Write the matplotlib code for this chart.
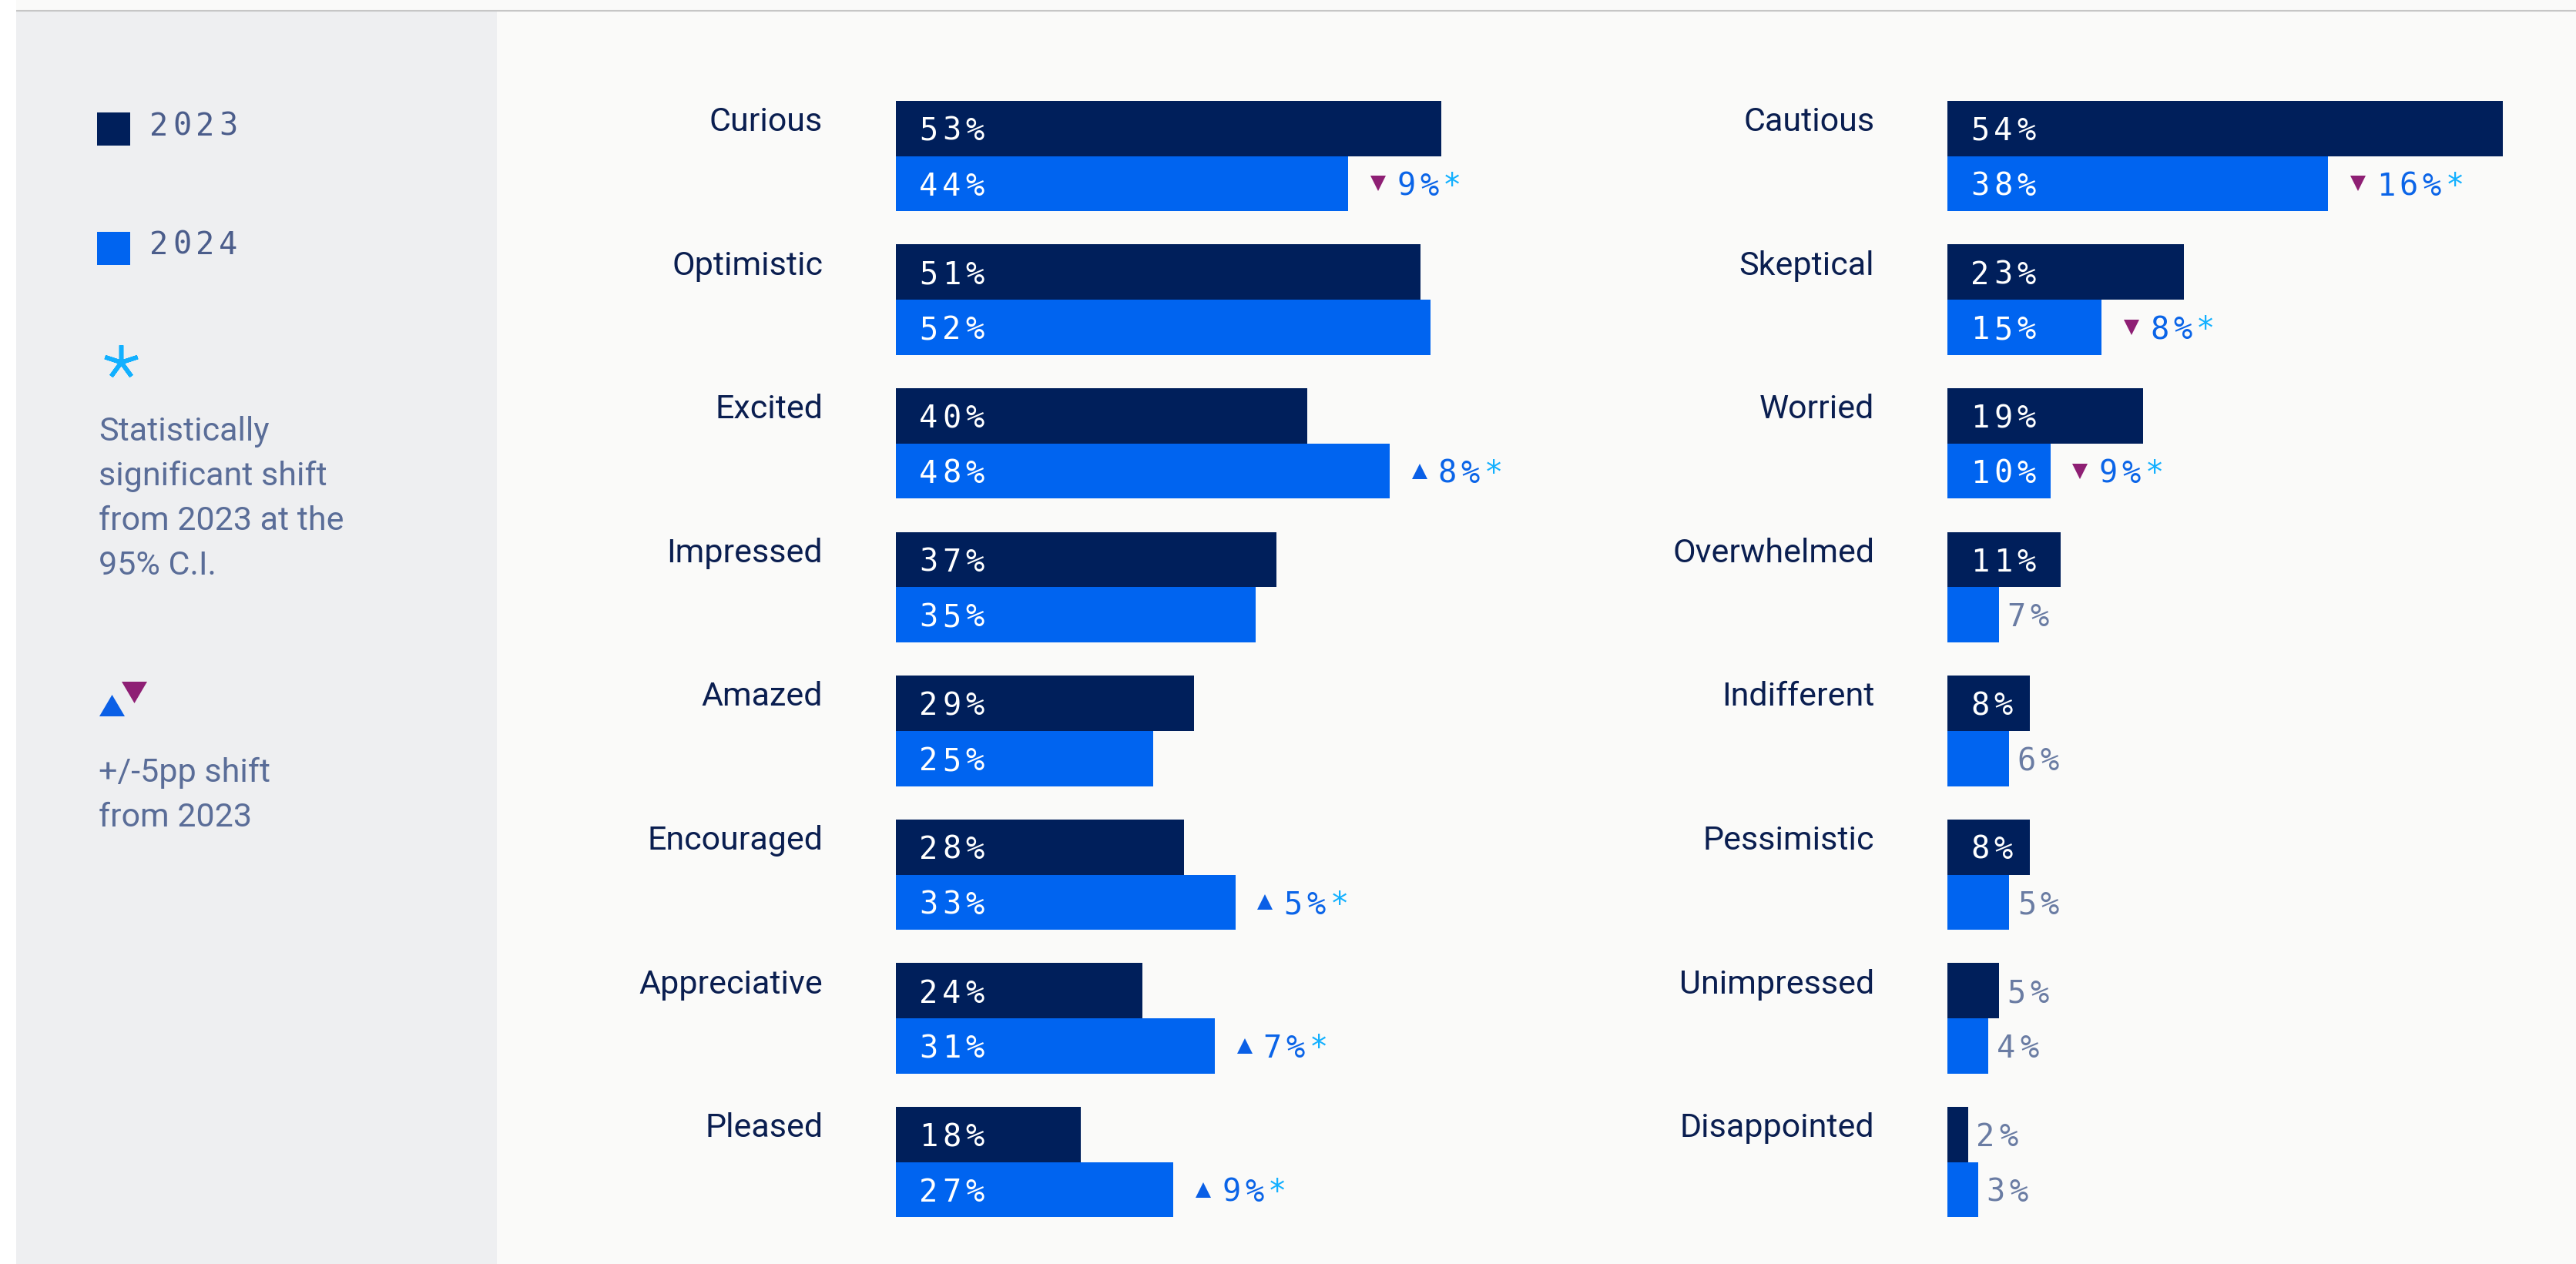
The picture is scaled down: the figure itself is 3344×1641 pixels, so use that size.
import numpy as np
import matplotlib.pyplot as plt
from matplotlib.patches import Rectangle, Polygon

# canvas in pixels (dpi 100)
W, H = 3344, 1641

# ---- data ----
left_cats = ['Curious', 'Optimistic', 'Excited', 'Impressed', 'Amazed',
             'Encouraged', 'Appreciative', 'Pleased']
left_2023 = [53, 51, 40, 37, 29, 28, 24, 18]
left_2024 = [44, 52, 48, 35, 25, 33, 31, 27]
left_shift = [-9, 0, 8, 0, 0, 5, 7, 9]          # shown +/- pp shift (0 = none)

right_cats = ['Cautious', 'Skeptical', 'Worried', 'Overwhelmed', 'Indifferent',
              'Pessimistic', 'Unimpressed', 'Disappointed']
right_2023 = [54, 23, 19, 11, 8, 8, 5, 2]
right_2024 = [38, 15, 10, 7, 6, 5, 4, 3]
# bar lengths as drawn in the source (a few differ from their printed labels)
right_2024_bar = [37, 15, 10, 5, 6, 6, 4, 3]
right_shift = [-16, -8, -9, 0, 0, 0, 0, 0]

years = ['2023', '2024']

# ---- style ----
NAVY = '#001f5b'
BLUE = '#0064f0'
LABEL = '#0a1e50'
GREY = '#6a7ca3'
LEG_TXT = '#4b5d8b'
DESC = '#5a6d98'
UP = '#0a5fe6'
DOWN = '#8e1f74'
SHIFT_TXT = '#0a64e8'
STAR = '#12b0ff'
MONO = 'DejaVu Sans Mono'
SANS = 'Roboto'
MONO_SIZE = 29
ADV = 21.6             # tracked mono advance, points (~30 px)

PX_PER_PCT = 13.35
PITCH = 186.6          # px between category groups
FIRST = 202.5          # px (from top) of first group centre
BAR_H = 0.384


def mono(ax, x, y, s, color, start=0):
    # monospace text with wide letter spacing, one glyph per cell
    for k, ch in enumerate(s):
        ax.annotate(ch, xy=(x, y), xytext=((start + k) * ADV, 0),
                    textcoords='offset points', ha='left', va='baseline',
                    fontsize=MONO_SIZE, family=MONO, color=color,
                    annotation_clip=False)


fig = plt.figure(figsize=(W / 100, H / 100), dpi=100, facecolor='#fafaf9')

# background / sidebar in pixel coordinates
bg = fig.add_axes([0, 0, 1, 1])
bg.set_xlim(0, W)
bg.set_ylim(H, 0)
bg.axis('off')
bg.add_patch(Rectangle((0, 0), 21, H, color='#ffffff', lw=0))
bg.add_patch(Rectangle((21, 15), 624, H, color='#eeeff1', lw=0))
bg.plot([21, W], [14, 14], color='#c6c6c6', lw=1.5, solid_capstyle='butt')

# legend
for yr, col, top, base in zip(years, [NAVY, BLUE], [146, 301], [176, 330]):
    bg.add_patch(Rectangle((126, top), 43, 43, color=col, lw=0))
    mono(bg, 194, base, yr, LEG_TXT)

bg.plot(157, 470, marker=(5, 2, 0), ms=32, mew=4, color=STAR)
for k, line in enumerate(['Statistically', 'significant shift', 'from 2023 at the', '95% C.I.']):
    bg.text(128, 572 + 58 * k, line, fontsize=31, family=SANS, color=DESC, va='baseline')

bg.add_patch(Polygon([(129, 930), (162, 930), (145.5, 902)], color=UP, lw=0))
bg.add_patch(Polygon([(158, 885), (191, 885), (174.5, 913)], color=DOWN, lw=0))
for k, line in enumerate(['+/-5pp shift', 'from 2023']):
    bg.text(128, 1015 + 58 * k, line, fontsize=31, family=SANS, color=DESC, va='baseline')


def draw_panel(x0, x1, cats, v23, v24, shift, bar24=None):
    if bar24 is None:
        bar24 = v24
    ax = fig.add_axes([x0 / W, 0, (x1 - x0) / W, 1])
    ax.set_xlim(0, (x1 - x0) / PX_PER_PCT)
    ax.set_ylim((H - FIRST) / PITCH, -FIRST / PITCH)
    ax.axis('off')
    ax.patch.set_alpha(0)

    idx = np.arange(len(cats))
    y23 = idx - BAR_H / 2
    y24 = idx + BAR_H / 2
    ax.barh(y23, v23, height=BAR_H, color=NAVY, lw=0)
    ax.barh(y24, bar24, height=BAR_H, color=BLUE, lw=0)

    for i, cat in enumerate(cats):
        ax.text(-7.1, i - 0.174, cat, ha='right', va='baseline',
                fontsize=31, family=SANS, color=LABEL, clip_on=False)

    for ys, vals, lens in [(y23, v23, v23), (y24, v24, bar24)]:
        for y, v, L in zip(ys, vals, lens):
            if v >= 8:
                mono(ax, 2.25, y + 0.082, f'{v}%', 'white')
            else:
                mono(ax, L + 0.8, y + 0.082, f'{v}%', GREY)

    for y, L, s in zip(y24, bar24, shift):
        if s == 0:
            continue
        ax.plot(L + 2.9, y, marker='^' if s > 0 else 'v', ms=15,
                color=UP if s > 0 else DOWN, mew=0)
        txt = f'{abs(s)}%'
        mono(ax, L + 4.7, y + 0.082, txt, SHIFT_TXT)
        mono(ax, L + 4.7, y + 0.082, '*', STAR, start=len(txt))
    return ax


draw_panel(1163, 2450, left_cats, left_2023, left_2024, left_shift)
draw_panel(2528, W, right_cats, right_2023, right_2024, right_shift, right_2024_bar)

fig.savefig('out.png', dpi=100, facecolor=fig.get_facecolor())
